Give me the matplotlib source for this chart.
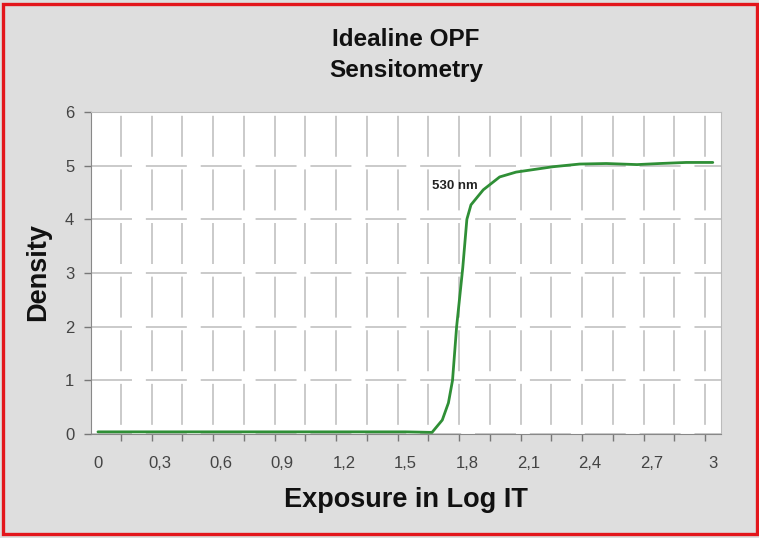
import numpy as np
import matplotlib
matplotlib.use("Agg")
import matplotlib.pyplot as plt
from matplotlib.patches import Rectangle

plt.rcParams['font.family'] = ['Liberation Sans', 'DejaVu Sans']
plt.rcParams['lines.scale_dashes'] = False

# data
exposure = [0, 0.3, 0.6, 0.9, 1.2, 1.5, 1.63, 1.68, 1.71, 1.73, 1.75, 1.78,
            1.80, 1.82, 1.88, 1.96, 2.04, 2.22, 2.35, 2.48, 2.63, 2.74, 2.87, 3.0]
density = [0.04, 0.04, 0.04, 0.04, 0.04, 0.04, 0.03, 0.26, 0.58, 1.0, 2.0, 3.1,
           4.0, 4.27, 4.55, 4.79, 4.88, 4.98, 5.03, 5.04, 5.02, 5.04, 5.06, 5.06]
xticks = [0, 0.3, 0.6, 0.9, 1.2, 1.5, 1.8, 2.1, 2.4, 2.7, 3.0]
xticklabels = ['0', '0,3', '0,6', '0,9', '1,2', '1,5', '1,8', '2,1', '2,4', '2,7', '3']
yticks = [0, 1, 2, 3, 4, 5, 6]

W, H = 759, 538
fig = plt.figure(figsize=(W / 100, H / 100), dpi=100)
fig.patch.set_facecolor('#dedede')

# red frame
fig.patches.append(Rectangle((3 / W, 4 / H), 754 / W, 530 / H, transform=fig.transFigure,
                             fill=False, edgecolor='#e3161b', linewidth=2.4))

ax = fig.add_axes([91 / W, (H - 434) / H, (721 - 91) / W, (434 - 112) / H])
ax.set_facecolor('white')
ax.plot(exposure, density, color='#2f8f36', lw=2.0, solid_capstyle='round', zorder=3)

ax.set_xlim(-0.034, 3.04)
ax.set_ylim(0, 6)
ax.set_xticks(xticks)
ax.set_xticklabels(xticklabels)
ax.set_xticks(np.arange(0.112, 3.0, 0.15), minor=True)
ax.set_yticks(yticks)

ax.tick_params(axis='x', which='major', length=0, pad=16, labelsize=12, labelcolor='#444444')
ax.tick_params(axis='x', which='minor', length=5, width=1, color='#777777', direction='out')
ax.tick_params(axis='y', length=5, width=1, color='#777777', pad=7, labelsize=12, labelcolor='#444444')

# dashed grid, vertical at minor ticks, horizontal at integer densities
ax.grid(which='minor', axis='x', color='#c6c6c6', lw=1.3, ls=(32, (29.5, 9.1)))
ax.grid(which='major', axis='y', color='#c6c6c6', lw=1.3, ls=(0, (29.5, 10)))
ax.set_axisbelow(True)

for s in ['left', 'bottom']:
    ax.spines[s].set_color('#888888')
for s in ['top', 'right']:
    ax.spines[s].set_color('#bbbbbb')

ax.text(1.854, 4.62, '530 nm', ha='right', va='center', fontsize=9.5, fontweight='bold', color='#222222')

fig.text(406 / W, 1 - 55 / H, 'Idealine OPF\nSensitometry', ha='center', va='center',
         fontsize=17.5, fontweight='bold', linespacing=1.45, color='#111111')
fig.text(406 / W, 1 - 500 / H, 'Exposure in Log IT', ha='center', va='center',
         fontsize=19.5, fontweight='bold', color='#111111')
fig.text(38 / W, 1 - 272 / H, 'Density', ha='center', va='center', rotation=90,
         fontsize=19.5, fontweight='bold', color='#111111')

fig.savefig('out.png', dpi=100, facecolor=fig.get_facecolor())
